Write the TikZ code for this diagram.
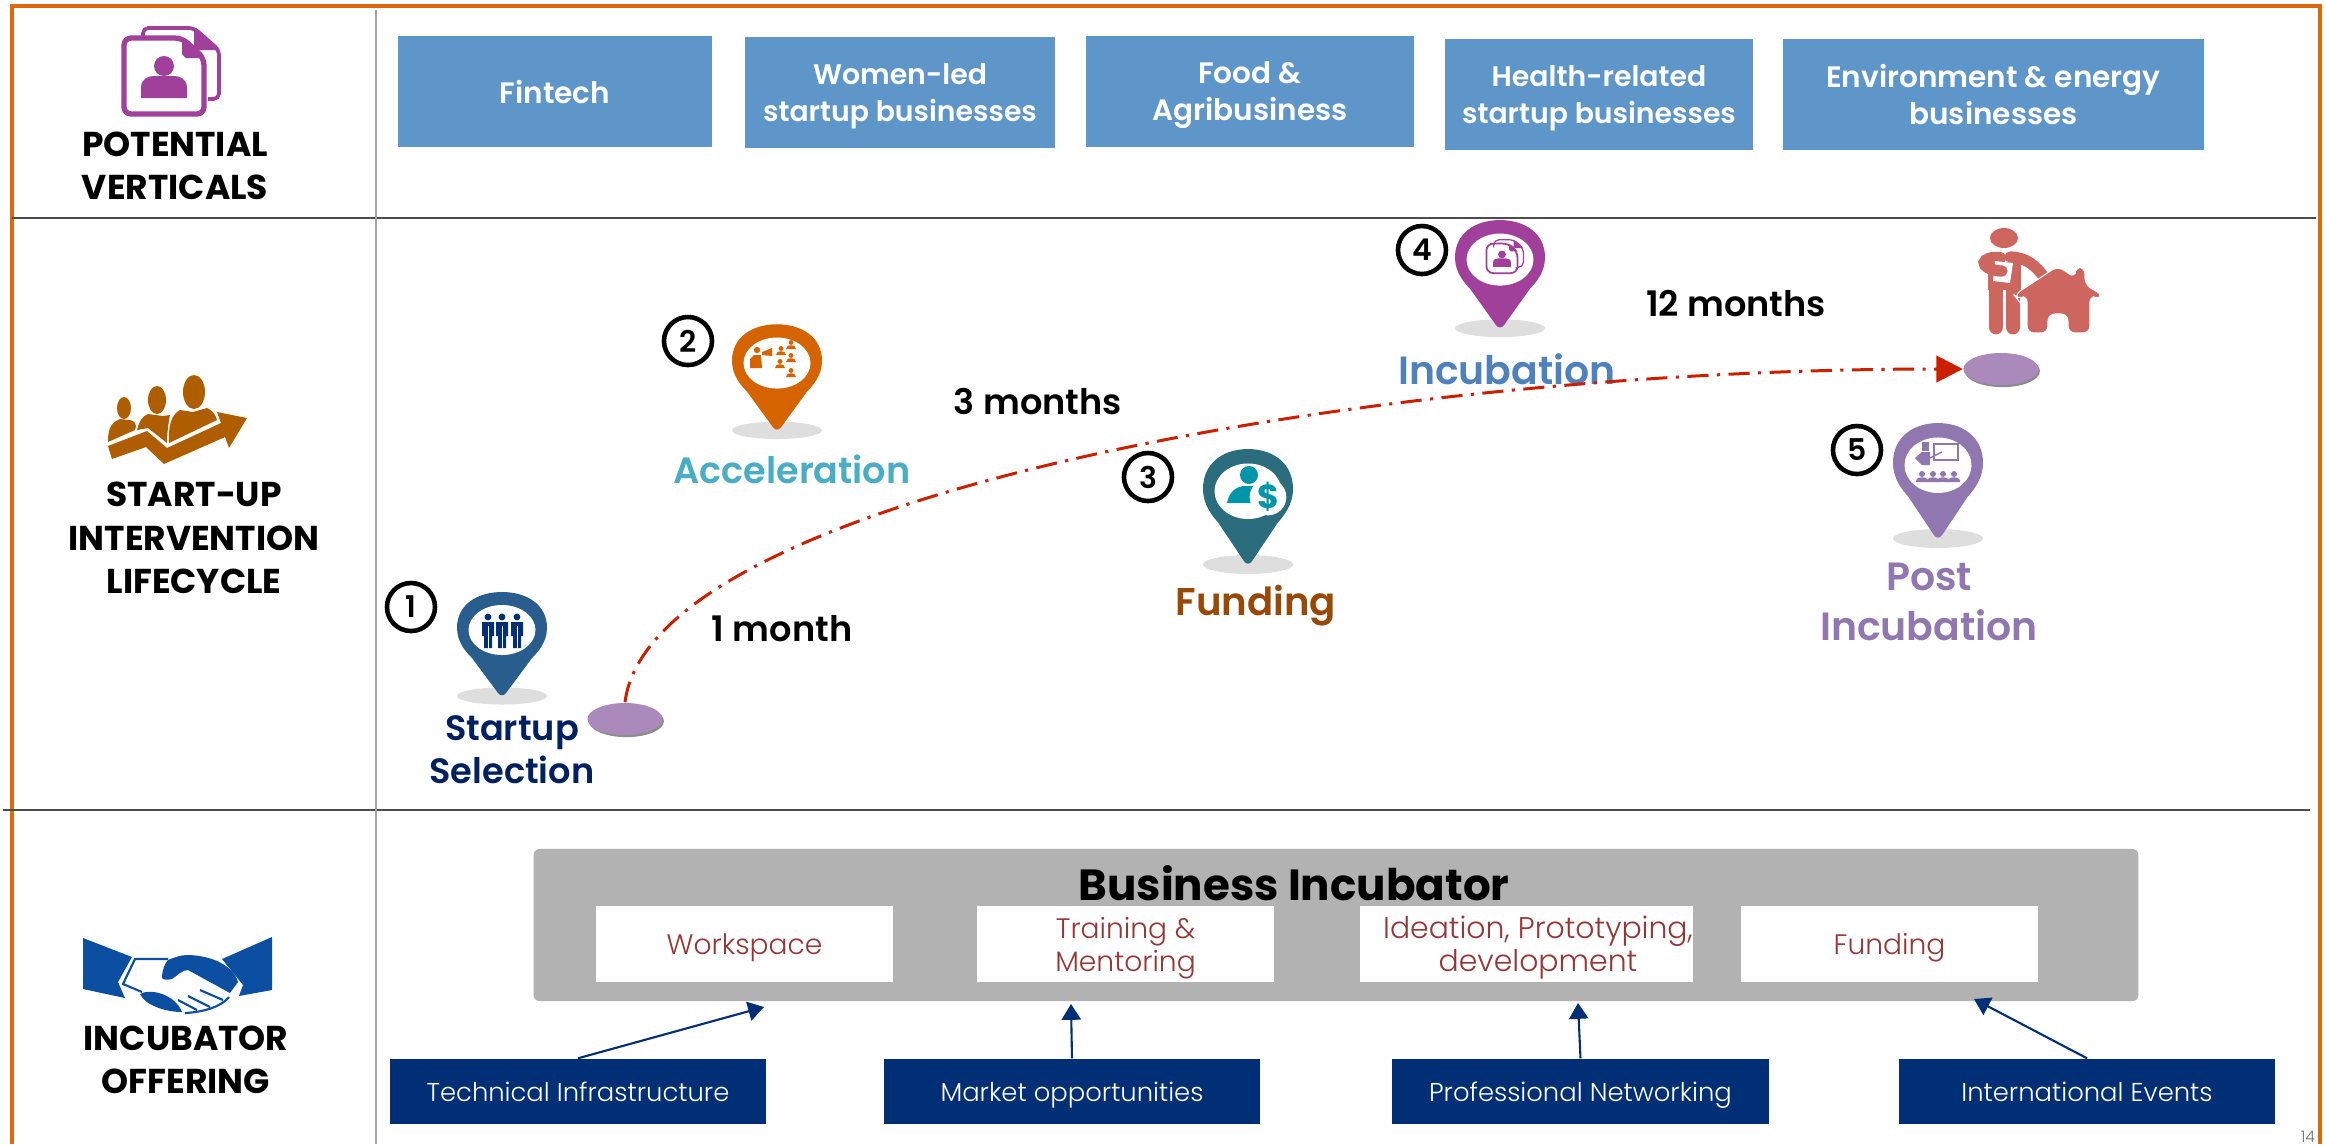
\documentclass[tikz,border=0pt]{standalone}
\usepackage{fontspec}
\setmainfont{Poppins}[BoldFont={Poppins SemiBold}]
\newfontfamily\lightfont{Poppins Light}
\newfontfamily\heavyfont{Poppins Bold}
\usepackage{tikz}
\usetikzlibrary{shapes}
\usetikzlibrary{shadows}
\usetikzlibrary{arrows.meta}
\definecolor{framecol}{HTML}{DE680C}
\definecolor{boxcol}{HTML}{5F96C9}
\definecolor{navycol}{HTML}{002F75}
\definecolor{wordcol}{HTML}{953735}
\definecolor{spotcol}{HTML}{A98ABB}
\definecolor{curvecol}{HTML}{CC1F00}
\definecolor{doccol}{HTML}{A0409A}
\definecolor{browncol}{HTML}{AE5E00}
\definecolor{handcol}{HTML}{0B4EA2}
\definecolor{housecol}{HTML}{CD665F}
\definecolor{postcol}{HTML}{9177AF}
\definecolor{selectpin}{HTML}{295D8E}
\definecolor{accelpin}{HTML}{D46300}
\definecolor{fundpin}{HTML}{2B6C7D}
\definecolor{fundicon}{HTML}{0095A8}
\definecolor{accelname}{HTML}{4BACC6}
\definecolor{incubname}{HTML}{4F81BD}
\definecolor{fundname}{HTML}{984807}
\definecolor{selectname}{HTML}{002060}
\tikzset{
vertbox/.style={fill=boxcol,text=white,inner sep=0,minimum height=1.11cm,text depth=0pt,align=center,font=\bfseries\fontsize{8.4}{10.5}\selectfont},
narrowtext/.style={font=\bfseries\fontsize{8.05}{10.5}\selectfont},
offerbox/.style={fill=white,text=wordcol,inner sep=0,minimum height=.76cm,text depth=-.4pt,align=center,font=\lightfont\fontsize{8}{9.4}\selectfont},
supportbox/.style={fill=navycol,text=white,inner sep=0,minimum width=3.76cm,minimum height=.65cm,text depth=-.4pt,font=\lightfont\fontsize{7.35}{9.4}\selectfont},
sidecaption/.style={align=center,font=\heavyfont\fontsize{9.8}{12.3}\selectfont},
stagelabel/.style={align=center},
timelabel/.style={font=\bfseries\fontsize{10}{12}\selectfont},
stepnum/.style={circle,draw=black,line width=1.3pt,fill=white,minimum size=.48cm,inner sep=0,font=\bfseries\fontsize{8.5}{9}\selectfont},
spot/.style={ellipse,fill=spotcol,minimum width=.75cm,minimum height=.32cm,inner sep=0,drop shadow={shadow xshift=.4pt,shadow yshift=-.6pt,fill=black!45,opacity=1}},
feed/.style={navycol,line width=.6pt,-{Triangle[length=4.5pt,width=5.5pt]}}
}
% map marker: x, y of the head, height factor, colour
\newcommand{\mappin}[4]{
\begin{scope}[shift={(#1,#2)},yscale=#3]
\fill[black!13] (0,68) ellipse (45 and 8.5);
\fill[#4] (-45,0) .. controls (-45,-24) and (-24,-36) .. (0,-36) .. controls (24,-36) and (45,-24) .. (45,0) .. controls (45,14) and (36,24) .. (30,30) -- (4,65) .. controls (2,68) and (-2,68) .. (-4,65) -- (-30,30) .. controls (-36,24) and (-45,14) .. (-45,0) -- cycle;
\fill[white] (0,2) ellipse (33.5 and 25);
\end{scope}
}
% small person: x, top y, height, colour
\newcommand{\person}[4]{
\fill[#4] (#1,#2+.27*#3) circle (.27*#3);
\fill[#4] (#1-.55*#3,#2+#3) .. controls (#1-.55*#3,#2+.65*#3) and (#1-.3*#3,#2+.58*#3) .. (#1,#2+.58*#3) .. controls (#1+.3*#3,#2+.58*#3) and (#1+.55*#3,#2+.65*#3) .. (#1+.55*#3,#2+#3) -- cycle;
}
% two sheets with a person: x, y, scale, line width
\newcommand{\docicon}[4]{
\begin{scope}[shift={(#1,#2)},scale=#3]
\draw[doccol,line width=#4*.7,rounded corners=1.5] (-21,-34) -- (-21,-42) -- (30,-42) -- (55,-20) -- (55,29) -- (44,29);
\fill[doccol] (30,-42) -- (55,-20) -- (34,-20) -- (30,-24) -- cycle;
\draw[doccol,line width=#4,rounded corners=2] (-40,-32) -- (18,-32) -- (40,-12) -- (40,44) -- (-40,44) -- cycle;
\fill[doccol] (18,-32) -- (40,-12) -- (22,-12) -- (18,-16) -- cycle;
\fill[doccol] (0,-4) circle (10);
\fill[doccol] (-23,28) -- (-23,18) .. controls (-23,9) and (-16,6) .. (-10,6) -- (10,6) .. controls (16,6) and (23,9) .. (23,18) -- (23,28) -- cycle;
\end{scope}
}
\begin{document}
\begin{tikzpicture}[x=.01cm,y=-.01cm]
\useasboundingbox (0,0) rectangle (2326,1144);
\fill[white] (0,0) rectangle (2326,1144);
\draw[framecol,line width=.9pt] (12,1144)--(12,6)--(2320,6)--(2320,1144);
\draw[black!70,line width=.8pt] (12,218)--(2316,218);
\draw[black!70,line width=.8pt] (3,810)--(2310,810);
\draw[black!35,line width=.6pt] (376,10)--(376,1144);

% top row
\docicon{164}{70}{1}{1.5pt}
\node[sidecaption] (potential) at (175,166) {POTENTIAL\\VERTICALS};
\node[vertbox,minimum width=3.14cm] (fintech) at (555,91.5) {Fintech};
\node[vertbox,narrowtext,minimum width=3.10cm] (women) at (900,92.5) {Women-led\\startup businesses};
\node[vertbox,minimum width=3.28cm] (food) at (1250,91.5) {Food \&\\Agribusiness};
\node[vertbox,narrowtext,minimum width=3.08cm] (health) at (1599,94.5) {Health-related\\startup businesses};
\node[vertbox,minimum width=4.21cm] (environment) at (1993.5,94.5) {Environment \& energy\\businesses};

% brown people with arrow
\fill[browncol] (124,408) ellipse (7 and 11);
\fill[browncol] (157,400) ellipse (9 and 14);
\fill[browncol] (194,392) ellipse (11 and 17);
\fill[browncol] (108,442) .. controls (108,430) and (110,423) .. (120,419) -- (130,420) .. controls (134,421) and (136,423) .. (136,426) -- (135,430) -- cycle;
\fill[browncol] (137,430) .. controls (139,422) and (142,416) .. (148,414) -- (163,416) -- (170,415) .. controls (168,425) and (167,435) .. (167,443) -- (148,428) -- cycle;
\fill[browncol] (169,443) .. controls (168,425) and (172,414) .. (180,410) -- (193,412) -- (207,408) .. controls (212,410) and (216,415) .. (217,420) -- cycle;
\fill[browncol] (108,446) -- (147,431) -- (167,448) -- (221,423) -- (217,412) -- (247,418) -- (229,448) -- (225,437) -- (164,464) -- (146,447) -- (112,459) -- cycle;
\node[sidecaption] (lifecycle) at (194,538) {START-UP\\INTERVENTION\\LIFECYCLE};

% markers
\mappin{502}{628}{1}{selectpin}
\foreach \mx in {488,502,517}{
\fill[navycol] (\mx,617) circle (3.4);
\fill[navycol] (\mx-6,622) -- (\mx+6,622) -- (\mx+6,636) -- (\mx+4,636) -- (\mx+4,648) -- (\mx-4,648) -- (\mx-4,636) -- (\mx-6,636) -- cycle;
\draw[white,line width=.25pt] (\mx,626) -- (\mx,648);
}
\mappin{777}{361}{1.02}{accelpin}
\fill[accelpin] (757,350) circle (3.2);
\fill[accelpin] (750,368) -- (750,359) -- (754,355) -- (761,355) -- (762,368) -- cycle;
\fill[accelpin] (762,352) -- (772,348) -- (772,356) -- (762,355) -- cycle;
\person{781}{346}{9}{accelpin}
\person{791}{340}{9}{accelpin}
\person{791}{353}{9}{accelpin}
\person{780}{359}{9}{accelpin}
\person{791}{368}{9}{accelpin}
\mappin{1248}{489}{1.11}{fundpin}
\fill[fundicon] (1249,475) circle (9);
\fill[fundicon] (1227,503) .. controls (1229,492) and (1236,487) .. (1243,486) -- (1255,486) .. controls (1261,487) and (1266,490) .. (1268,503) -- cycle;
\node[text=fundicon,fill=white,circle,inner sep=0,font=\heavyfont\fontsize{9.5}{10}\selectfont] (dollar) at (1268,497) {\$};
\mappin{1500}{257.5}{1.04}{doccol}
\docicon{1502}{256}{.39}{.5pt}
\mappin{1938}{463}{1.11}{postcol}
\fill[postcol] (1922,442) rectangle (1929,451);
\fill[postcol] (1915,458) -- (1922,452) -- (1930,452) -- (1930,465) -- (1922,465) -- cycle;
\draw[postcol,line width=.4pt] (1930,458) -- (1942,452);
\draw[postcol,line width=.4pt] (1934,444) rectangle (1958,460);
\foreach \mx in {1922,1933,1943,1954}{
\person{\mx}{471}{11}{postcol}
}

% step numbers
\node[stepnum] (stepone) at (411,607) {1};
\node[stepnum] (steptwo) at (688,341) {2};
\node[stepnum] (stepthree) at (1148,477) {3};
\node[stepnum] (stepfour) at (1422,250) {4};
\node[stepnum] (stepfive) at (1857,450) {5};

% stage names
\node[stagelabel,text=selectname,font=\bfseries\fontsize{10}{12.3}\selectfont] (selection) at (512,750) {Startup\\Selection};
\node[stagelabel,text=accelname,font=\bfseries\fontsize{10.4}{14}\selectfont] (acceleration) at (792,469) {Acceleration};
\node[stagelabel,text=fundname,font=\bfseries\fontsize{11}{14}\selectfont] (fundingname) at (1256,606) {Funding};
\node[stagelabel,text=incubname,font=\bfseries\fontsize{11.2}{14}\selectfont] (incubation) at (1507,369) {Incubation};
\node[stagelabel,text=postcol,font=\bfseries\fontsize{11.2}{14.4}\selectfont] (postinc) at (1929,602) {Post\\Incubation};
\node[timelabel] (onemonth) at (782,629) {1 month};
\node[timelabel] (threemonths) at (1038,402) {3 months};
\node[timelabel] (twelvemonths) at (1736,304) {12 months};

% curve between the two spots
\node[spot] (startspot) at (625,719) {};
\node[spot] (endspot) at (2001,369) {};
\draw[curvecol,line width=.85pt,dash pattern=on 6pt off 2.4pt on .9pt off 2.4pt,-{Triangle[length=7.5pt,width=7.5pt]}] (startspot.north) .. controls (650,500) and (1350,369) .. (endspot.west);

% person and house
\fill[housecol] (2004,238) ellipse (14 and 10);
\draw[housecol,line width=4.2pt,line cap=round] (1996,285)--(1996,327);
\draw[housecol,line width=4.2pt,line cap=round] (2013,285)--(2013,327);
\fill[housecol] (1988,262) rectangle (2021,290);
\draw[housecol,line width=3.4pt,line cap=round] (2000,258) .. controls (1982,256) and (1976,268) .. (2002,271);
\draw[housecol,line width=3.2pt,line cap=round] (2010,257) .. controls (2026,257) and (2036,266) .. (2044,277);
\fill[white] (1995,261) -- (2013,263) -- (2010,283) -- (1993,281) -- cycle;
\draw[housecol,line width=3.2pt,line cap=round] (1990,268) .. controls (1992,270) and (1998,271) .. (2002,271);
\fill[housecol,draw=white,line width=.3pt,rounded corners=2] (2014,295) -- (2058,266) -- (2075,278) -- (2075,267) -- (2085,267) -- (2085,285) -- (2103,295) -- (2099,300) -- (2090,295) -- (2090,333) -- (2068,333) -- (2068,314) -- (2048,314) -- (2048,333) -- (2027,333) -- (2027,295) -- (2018,300) -- cycle;

% bottom row
\fill[handcol] (83,938) -- (132,957) -- (118,982) -- (125,998) -- (83,989) -- cycle;
\fill[handcol] (272,937) -- (222,959) -- (243,985) -- (239,996) -- (272,990) -- cycle;
\draw[handcol,line width=.6pt] (168,959) -- (135,959) -- (123,984) -- (142,992);
\fill[handcol] (162,978) .. controls (162,970) and (165,963) .. (168,960) .. controls (175,957) and (182,955) .. (187,955) .. controls (205,955) and (232,962) .. (238,982) -- (230,993) -- (188,970) .. controls (182,970) and (178,975) .. (172,979) .. controls (168,980) and (163,980) .. (162,978) -- cycle;
\fill[handcol] (140,994) .. controls (150,988) and (175,994) .. (182,1012) .. controls (165,1012) and (145,1005) .. (140,994) -- cycle;
\draw[handcol,line width=.6pt] (200,990)--(223,1000);
\draw[handcol,line width=.6pt] (188,996)--(210,1007);
\draw[handcol,line width=.6pt] (178,1000)--(197,1010);
\draw[handcol,line width=.6pt] (185,1013) .. controls (205,1012) and (222,1006) .. (229,997);
\node[sidecaption] (offering) at (186,1060) {INCUBATOR\\OFFERING};

\node[fill=black!30,rounded corners=.06cm,inner sep=0,minimum width=16.04cm,minimum height=1.52cm] (incubator) at (1336,925) {};
\node[font=\heavyfont\fontsize{12.4}{15}\selectfont] (incubatorname) at (1294,883) {Business Incubator};
\node[offerbox,minimum width=2.97cm] (workspace) at (744.5,944) {Workspace};
\node[offerbox,minimum width=2.97cm] (training) at (1125.5,944) {Training \&\\Mentoring};
\node[offerbox,minimum width=3.33cm] (ideation) at (1526.5,944) {};
\node[offerbox,fill=none,minimum height=0pt,font=\lightfont\fontsize{8.5}{9.4}\selectfont] (ideationtext) at (1538,944) {Ideation, Prototyping,\\development};
\node[offerbox,minimum width=2.97cm] (fundingbox) at (1889.5,944) {Funding};
\node[supportbox] (technical) at (578,1091.5) {Technical Infrastructure};
\node[supportbox] (market) at (1072,1091.5) {Market opportunities};
\node[supportbox] (networking) at (1580.5,1091.5) {Professional Networking};
\node[supportbox] (events) at (2087,1091.5) {International Events};
\coordinate (intechnical) at (764,1007);
\coordinate (inmarket) at (1071,1004);
\coordinate (innetworking) at (1578,1003);
\coordinate (inevents) at (1974,999);
\draw[feed] (technical.north) -- (intechnical);
\draw[feed] (market.north) -- (inmarket);
\draw[feed] (networking.north) -- (innetworking);
\draw[feed] (events.north) -- (inevents);
\node[text=black!55,inner sep=0,font=\lightfont\fontsize{4.5}{5}\selectfont] (pagenumber) at (2308,1137) {14};
\end{tikzpicture}
\end{document}
